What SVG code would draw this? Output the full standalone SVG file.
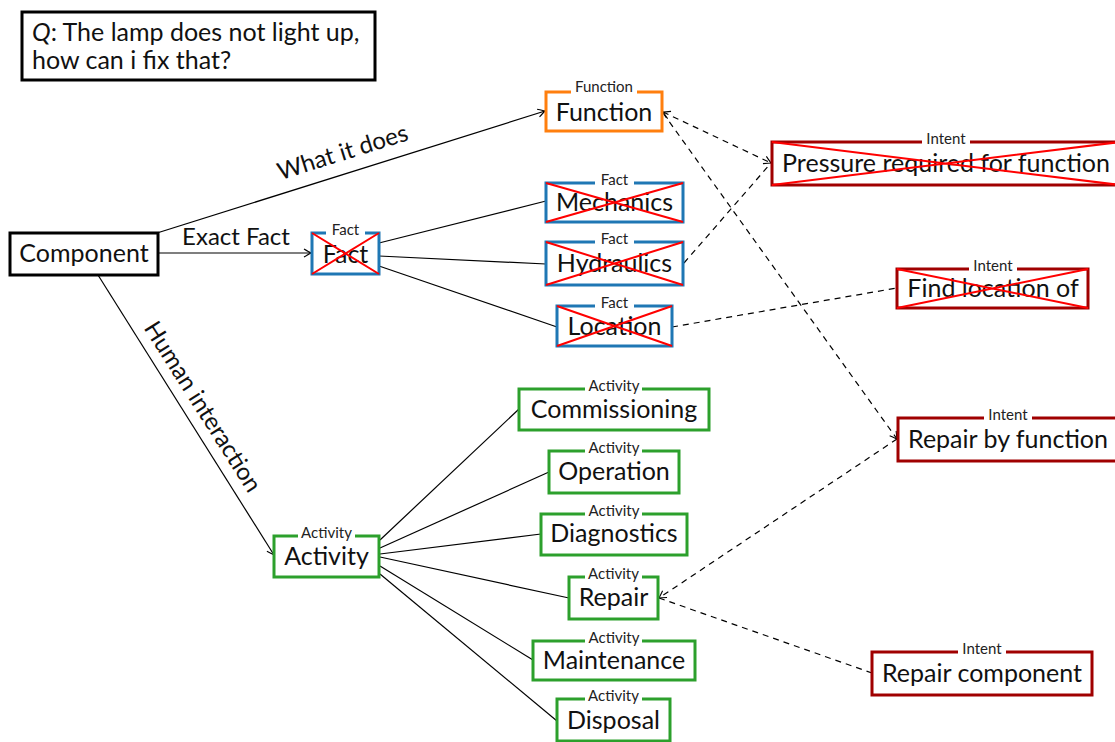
<svg xmlns="http://www.w3.org/2000/svg" width="1115" height="742" viewBox="0 0 1115 742">
<defs>
<style>
.t{font-family:Lato,"Liberation Sans",sans-serif;font-size:25px;fill:#111;text-anchor:middle}
.s{font-family:Lato,"Liberation Sans",sans-serif;font-size:15px;fill:#222;text-anchor:middle}
.e{font-family:Lato,"Liberation Sans",sans-serif;font-size:24px;fill:#111;text-anchor:middle}
.box{fill:#fff;stroke-width:3}
.blk{stroke:#000}
.org{stroke:#ff7f0e}
.blu{stroke:#1f77b4}
.grn{stroke:#2ca02c}
.red{stroke:#a00000}
.x{stroke:#ff0000;stroke-width:2}
.lab{fill:#fff}
.c{stroke:#000;stroke-width:1.2;fill:none}
.d{stroke:#000;stroke-width:1.2;fill:none;stroke-dasharray:6 5}
</style>
<marker id="ar" viewBox="-8 -5 10 10" refX="0" refY="0" markerWidth="10" markerHeight="10" markerUnits="userSpaceOnUse" orient="auto-start-reverse">
<path d="M-7,-4 Q-2,-1 0,0 Q-2,1 -7,4" fill="none" stroke="#000" stroke-width="1.1"/>
</marker>
</defs>
<rect width="1115" height="742" fill="#fff"/>
<g id="connectors">
<line class="c" x1="157" y1="233" x2="545" y2="111" marker-end="url(#ar)"/>
<line class="c" x1="158" y1="253" x2="311" y2="253" marker-end="url(#ar)"/>
<line class="c" x1="98" y1="275" x2="274" y2="555" marker-end="url(#ar)"/>
<line class="c" x1="379" y1="243" x2="546" y2="201"/>
<line class="c" x1="379" y1="256" x2="546" y2="264"/>
<line class="c" x1="379" y1="266" x2="557" y2="327"/>
<line class="c" x1="380" y1="540" x2="519" y2="409"/>
<line class="c" x1="380" y1="548" x2="549" y2="472"/>
<line class="c" x1="380" y1="554" x2="541" y2="534"/>
<line class="c" x1="380" y1="557" x2="569" y2="598"/>
<line class="c" x1="380" y1="566" x2="533" y2="660"/>
<line class="c" x1="380" y1="574" x2="557" y2="721"/>
<line class="d" x1="663" y1="112" x2="771" y2="163" marker-start="url(#ar)" marker-end="url(#ar)"/>
<line class="d" x1="684" y1="263" x2="771" y2="163"/>
<line class="d" x1="663" y1="113" x2="897" y2="439" marker-end="url(#ar)"/>
<line class="d" x1="897" y1="439" x2="659" y2="598" marker-end="url(#ar)"/>
<line class="d" x1="659" y1="598" x2="872" y2="673"/>
<line class="d" x1="672" y1="327" x2="897" y2="288"/>
<text class="e" transform="translate(345,160) rotate(-17.4)">What it does</text>
<text class="e" x="236" y="245">Exact Fact</text>
<text class="e" transform="translate(196,411) rotate(57.6)">Human interaction</text>
</g>
<g id="question">
<rect class="box blk" x="22" y="12" width="353" height="68"/>
<text class="t" x="32" y="41" style="text-anchor:start"><tspan font-style="italic">Q</tspan>: The lamp does not light up,</text>
<text class="t" x="32" y="69" style="text-anchor:start">how can i fix that?</text>
</g>
<g id="component">
<rect class="box blk" x="10" y="233" width="148" height="42"/>
<text class="t" x="84" y="262">Component</text>
</g>
<g id="function">
<rect class="box org" x="546" y="92" width="116" height="39"/>
<rect class="lab" x="571" y="88" width="66" height="8"/>
<text class="s" x="604" y="92">Function</text>
<text class="t" x="604" y="121">Function</text>
</g>
<g id="fact">
<rect class="box blu" x="312" y="233" width="67" height="41"/>
<rect class="lab" x="326" y="229" width="39" height="8"/>
<text class="s" x="345.5" y="235">Fact</text>
<text class="t" x="345.5" y="263">Fact</text>
<path class="x" d="M312,233 L379,274 M379,233 L312,274"/>
</g>
<g id="mechanics">
<rect class="box blu" x="546" y="183" width="137" height="39"/>
<rect class="lab" x="595" y="179" width="39" height="8"/>
<text class="s" x="614.5" y="185">Fact</text>
<text class="t" x="614.5" y="211">Mechanics</text>
<path class="x" d="M546,183 L683,222 M683,183 L546,222"/>
</g>
<g id="hydraulics">
<rect class="box blu" x="546" y="242" width="137" height="43"/>
<rect class="lab" x="595" y="238" width="39" height="8"/>
<text class="s" x="614.5" y="244">Fact</text>
<text class="t" x="614.5" y="272">Hydraulics</text>
<path class="x" d="M546,242 L683,285 M683,242 L546,285"/>
</g>
<g id="location">
<rect class="box blu" x="557" y="306" width="115" height="40"/>
<rect class="lab" x="595" y="302" width="39" height="8"/>
<text class="s" x="614.5" y="308">Fact</text>
<text class="t" x="614.5" y="335">Location</text>
<path class="x" d="M557,306 L672,346 M672,306 L557,346"/>
</g>
<g id="pressure">
<rect class="box red" x="772" y="142" width="348" height="43"/>
<rect class="lab" x="922" y="138" width="48" height="8"/>
<text class="s" x="946" y="144">Intent</text>
<text class="t" x="946" y="172">Pressure required for function</text>
<path class="x" d="M772,142 L1120,185 M1120,142 L772,185"/>
</g>
<g id="findlocation">
<rect class="box red" x="897" y="269" width="191" height="39"/>
<rect class="lab" x="969" y="265" width="48" height="8"/>
<text class="s" x="993" y="271">Intent</text>
<text class="t" x="993" y="297">Find location of</text>
<path class="x" d="M897,269 L1088,308 M1088,269 L897,308"/>
</g>
<g id="repairbyfunction">
<rect class="box red" x="898" y="418" width="222" height="43"/>
<rect class="lab" x="984" y="414" width="48" height="8"/>
<text class="s" x="1008" y="420">Intent</text>
<text class="t" x="1008" y="448">Repair by function</text>
</g>
<g id="repaircomponent">
<rect class="box red" x="872" y="652" width="220" height="43"/>
<rect class="lab" x="958" y="648" width="48" height="8"/>
<text class="s" x="982" y="654">Intent</text>
<text class="t" x="982" y="682">Repair component</text>
</g>
<g id="activity">
<rect class="box grn" x="274" y="536" width="105" height="41"/>
<rect class="lab" x="298" y="532" width="57" height="8"/>
<text class="s" x="326.5" y="538">Activity</text>
<text class="t" x="326.5" y="565">Activity</text>
</g>
<g id="commissioning">
<rect class="box grn" x="519" y="389" width="190" height="41"/>
<rect class="lab" x="585" y="385" width="57" height="8"/>
<text class="s" x="614" y="391">Activity</text>
<text class="t" x="614" y="418">Commissioning</text>
</g>
<g id="operation">
<rect class="box grn" x="549" y="451" width="130" height="42"/>
<rect class="lab" x="585" y="447" width="57" height="8"/>
<text class="s" x="614" y="453">Activity</text>
<text class="t" x="614" y="480">Operation</text>
</g>
<g id="diagnostics">
<rect class="box grn" x="541" y="514" width="146" height="41"/>
<rect class="lab" x="585" y="510" width="57" height="8"/>
<text class="s" x="614" y="516">Activity</text>
<text class="t" x="614" y="542">Diagnostics</text>
</g>
<g id="repair">
<rect class="box grn" x="569" y="577" width="89" height="42"/>
<rect class="lab" x="585" y="573" width="57" height="8"/>
<text class="s" x="613.5" y="579">Activity</text>
<text class="t" x="613.5" y="606">Repair</text>
</g>
<g id="maintenance">
<rect class="box grn" x="533" y="641" width="162" height="39"/>
<rect class="lab" x="585" y="637" width="57" height="8"/>
<text class="s" x="614" y="643">Activity</text>
<text class="t" x="614" y="669">Maintenance</text>
</g>
<g id="disposal">
<rect class="box grn" x="557" y="699" width="113" height="42"/>
<rect class="lab" x="585" y="695" width="57" height="8"/>
<text class="s" x="613.5" y="701">Activity</text>
<text class="t" x="613.5" y="729">Disposal</text>
</g>
</svg>
